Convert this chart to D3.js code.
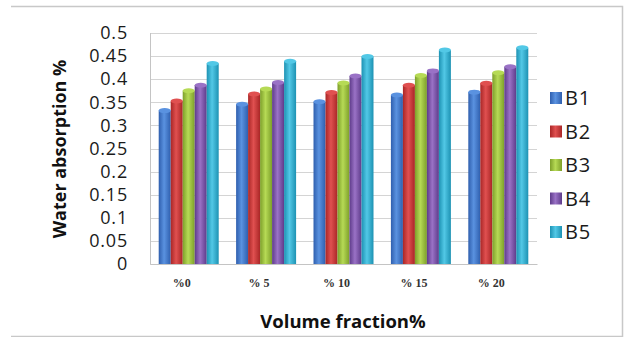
<!DOCTYPE html>
<html>
<head>
<meta charset="utf-8">
<script src="https://cdn.jsdelivr.net/npm/d3@7"></script>
<style>
  body { margin: 0; background: #fff; }
  svg { display: block; }
</style>
</head>
<body>
<div id="chart"></div>
<script>
"use strict"

const categories = ["%0", "% 5", "% 10", "% 15", "% 20"]
const seriesNames = ["B1", "B2", "B3", "B4", "B5"]
const B1 = [0.332, 0.346, 0.351, 0.366, 0.372]
const B2 = [0.353, 0.368, 0.371, 0.387, 0.391]
const B3 = [0.375, 0.379, 0.392, 0.408, 0.414]
const B4 = [0.387, 0.393, 0.407, 0.418, 0.427]
const B5 = [0.434, 0.439, 0.449, 0.463, 0.468]
const yTicks = [0, 0.05, 0.1, 0.15, 0.2, 0.25, 0.3, 0.35, 0.4, 0.45, 0.5]

const values = [B1, B2, B3, B4, B5]
// [edge, centre] for the cylinder-like shading
const colors = [
  ["#2f5fae", "#5a92e0"],
  ["#a92626", "#e05050"],
  ["#7d9f2a", "#b6da55"],
  ["#5e3b8a", "#9a72c6"],
  ["#1d92b3", "#52c8e6"]
]

const W = 626, H = 337
const margin = {top: 33, right: 89, bottom: 73, left: 150}
const width = W - margin.left - margin.right,
      height = H - margin.top - margin.bottom

const svg = d3.select("#chart").append("svg")
  .attr("width", W)
  .attr("height", H)

// gradients
const defs = svg.append("defs")
colors.forEach((c, i) => {
  const g = defs.append("linearGradient")
    .attr("id", "grad" + i)
    .attr("x1", "0%").attr("x2", "100%")
    .attr("y1", "0%").attr("y2", "0%")
  g.append("stop").attr("offset", "0%").attr("stop-color", c[0])
  g.append("stop").attr("offset", "45%").attr("stop-color", c[1])
  g.append("stop").attr("offset", "100%").attr("stop-color", c[0])
})

// outer frame
svg.append("path")
  .attr("d", `M11,6.5 H622.5 V336.5 H11`)
  .attr("fill", "none")
  .attr("stroke", "#c8c8c8")
  .attr("stroke-width", 1.5)

const g = svg.append("g")
  .attr("transform", "translate(" + margin.left + "," + margin.top + ")")

const x0 = d3.scaleBand()
  .domain(categories)
  .range([0, width])
  .paddingInner(0.225)
  .paddingOuter(0.1125)

const x1 = d3.scaleBand()
  .domain(seriesNames)
  .range([0, x0.bandwidth()])

const y = d3.scaleLinear()
  .domain([0, 0.5])
  .range([height, 0])

// gridlines
g.append("g")
  .selectAll("line")
  .data(yTicks)
  .join("line")
    .attr("x1", 0)
    .attr("x2", width)
    .attr("y1", d => Math.round(y(d)) + 0.5)
    .attr("y2", d => Math.round(y(d)) + 0.5)
    .attr("stroke", "#d4d4d4")
    .attr("stroke-width", 1)

g.append("line")
  .attr("x1", 0.5).attr("x2", 0.5)
  .attr("y1", 0).attr("y2", height)
  .attr("stroke", "#c4c4c4")

// Y axis labels (stretched a little sideways like the original)
const yAxis = g.append("g")
  .call(d3.axisLeft(y).tickValues(yTicks).tickSize(0).tickPadding(22)
    .tickFormat(d => String(+d.toFixed(2))))
yAxis.select(".domain").remove()
yAxis.selectAll("text")
  .attr("font-family", "'Open Sans', sans-serif")
  .attr("font-size", 18)
  .attr("letter-spacing", 0.8)
  .attr("fill", "#1a1a1a")

// bars
const groups = g.append("g")
  .selectAll("g")
  .data(categories)
  .join("g")
    .attr("transform", d => "translate(" + x0(d) + ",0)")

groups.selectAll("rect")
  .data((d, ci) => seriesNames.map((s, si) => ({si, v: values[si][ci]})))
  .join("rect")
    .attr("x", d => x1(seriesNames[d.si]))
    .attr("y", d => y(d.v))
    .attr("width", x1.bandwidth())
    .attr("height", d => height - y(d.v))
    .attr("fill", d => "url(#grad" + d.si + ")")

// rounded caps on top of bars
groups.selectAll("ellipse")
  .data((d, ci) => seriesNames.map((s, si) => ({si, v: values[si][ci]})))
  .join("ellipse")
    .attr("cx", d => x1(seriesNames[d.si]) + x1.bandwidth() / 2)
    .attr("cy", d => y(d.v))
    .attr("rx", x1.bandwidth() / 2)
    .attr("ry", 2.5)
    .attr("fill", d => colors[d.si][1])

// X axis labels
const xAxis = g.append("g")
  .attr("transform", "translate(0," + height + ")")
  .call(d3.axisBottom(x0).tickSize(0).tickPadding(14))
xAxis.select(".domain")
  .attr("stroke", "#c4c4c4")
xAxis.selectAll("text")
  .attr("dx", -7)
  .attr("font-family", "'Liberation Serif', 'Times New Roman', serif")
  .attr("font-weight", "bold")
  .attr("font-size", 12)
  .attr("fill", "#333")

// axis titles
svg.append("text")
  .attr("transform", "translate(66,149) rotate(-90)")
  .attr("text-anchor", "middle")
  .attr("font-family", "'Open Sans', sans-serif")
  .attr("font-weight", "bold")
  .attr("font-size", 18)
  .attr("fill", "#111")
  .text("Water absorption %")

svg.append("text")
  .attr("x", 343)
  .attr("y", 328)
  .attr("text-anchor", "middle")
  .attr("font-family", "'Open Sans', sans-serif")
  .attr("font-weight", "bold")
  .attr("font-size", 18.5)
  .attr("fill", "#111")
  .text("Volume fraction%")

// legend
const legend = svg.append("g")
  .selectAll("g")
  .data(seriesNames)
  .join("g")
    .attr("transform", (d, i) => "translate(550," + (98 + i * 33.5) + ")")

legend.append("rect")
  .attr("x", 0)
  .attr("y", -6)
  .attr("width", 12)
  .attr("height", 12)
  .attr("fill", (d, i) => "url(#grad" + i + ")")

legend.append("text")
  .attr("x", 15)
  .attr("y", 0)
  .attr("dy", "0.36em")
  .attr("font-family", "'Open Sans', sans-serif")
  .attr("font-size", 20)
  .attr("letter-spacing", 0.8)
  .attr("fill", "#1a1a1a")
  .text(d => d)
</script>
</body>
</html>
